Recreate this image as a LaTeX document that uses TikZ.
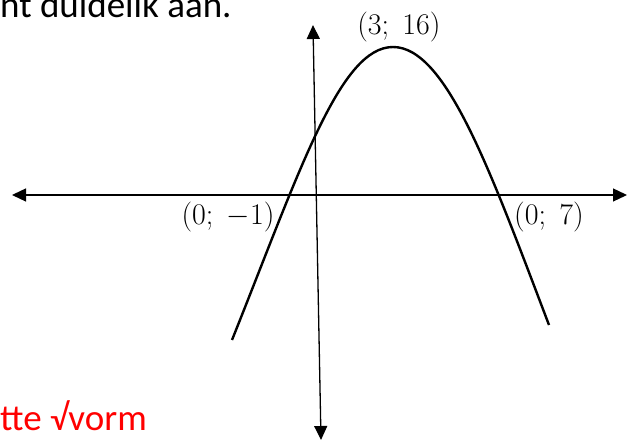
\documentclass[tikz,border=0pt]{standalone}
\usepackage{fix-cm}
\usepackage{fontspec}
\setmainfont{Carlito}
\usetikzlibrary{arrows.meta}

\begin{document}
\begin{tikzpicture}[
    x=1pt, y=-1pt,
    axis/.style={{Triangle[length=14pt,width=13pt]}-{Triangle[length=14pt,width=13pt]}, line width=1.3pt},
    curve/.style={line width=2.4pt},
    lbl/.style={inner sep=0pt, font=\fontsize{30}{33}\selectfont},
    note/.style={anchor=base west, inner sep=0pt, font=\fontsize{37}{42}\selectfont}
]
    \useasboundingbox (0,0) rectangle (627,443);

    % Axes
    \coordinate (xl) at (12,195);
    \coordinate (xr) at (627,195);
    \coordinate (yt) at (313,25);
    \coordinate (yb) at (321,440);
    \draw[axis] (xl) -- (xr);
    \draw[axis] (yb) -- (yt);

    % Parabola
    \coordinate (lend) at (232,340);
    \coordinate (top) at (393,47);
    \coordinate (rend) at (549,325);
    \draw[curve] (lend) .. controls (300,170) and (340,47) .. (top)
                        .. controls (446,47) and (490,170) .. (rend);

    % Points
    \node[lbl] (vertex) at (399,27) {$(3;\;16)$};
    \node[lbl] (rootl) at (228,217) {$(0;\;-1)$};
    \node[lbl] (rootr) at (549,217) {$(0;\;7)$};

    % Text
    \node[note] (intro) at (0,18) {nt duidelik aan.};
    \node[note, text=red] (hint) at (0,431) {tte √vorm};
\end{tikzpicture}
\end{document}
